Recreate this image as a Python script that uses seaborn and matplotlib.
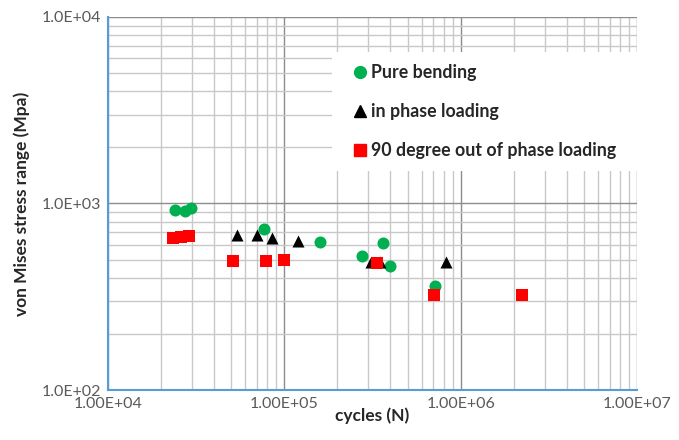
import numpy as np
import pandas as pd
import matplotlib
matplotlib.use("Agg")
import matplotlib.pyplot as plt
from matplotlib.ticker import FixedLocator, FuncFormatter, NullFormatter
from matplotlib.lines import Line2D
import seaborn as sns

# Fatigue test results: cycles to failure vs von Mises stress range
bending_cycles = [24.0e3, 27.4e3, 29.6e3, 76.7e3, 159e3, 276e3, 363e3, 398e3, 716e3]
bending_stress = [922, 912, 946, 730, 622, 523, 614, 462, 361]

inphase_cycles = [53.9e3, 70.0e3, 85.1e3, 120e3, 310e3, 349e3, 826e3]
inphase_stress = [678, 678, 653, 630, 485, 485, 485]

outphase_cycles = [23.4e3, 25.9e3, 28.8e3, 51.2e3, 78.7e3, 99.5e3, 336e3, 706e3, 2.23e6]
outphase_stress = [653, 661, 670, 492, 492, 498, 480, 323, 323]

series_names = ["Pure bending", "in phase loading", "90 degree out of phase loading"]

df = pd.concat([
    pd.DataFrame({"cycles": bending_cycles, "stress": bending_stress, "series": series_names[0]}),
    pd.DataFrame({"cycles": inphase_cycles, "stress": inphase_stress, "series": series_names[1]}),
    pd.DataFrame({"cycles": outphase_cycles, "stress": outphase_stress, "series": series_names[2]}),
], ignore_index=True)

sns.set_style("white")
plt.rcParams["font.family"] = ["Lato", "DejaVu Sans"]

colors = {series_names[0]: "#00B050", series_names[1]: "#000000", series_names[2]: "#FF0000"}
markers = {series_names[0]: "o", series_names[1]: "^", series_names[2]: "s"}
sizes = {series_names[0]: 75, series_names[1]: 75, series_names[2]: 85}

fig = plt.figure(figsize=(6.79, 4.40), dpi=100)
ax = fig.add_axes([108 / 679, 1 - 390 / 440, (637 - 108) / 679, (390 - 17) / 440])

for name in series_names:
    sns.scatterplot(data=df[df["series"] == name], x="cycles", y="stress",
                    color=colors[name], marker=markers[name], s=sizes[name],
                    linewidth=0, ax=ax, zorder=3, legend=False)

ax.set_xscale("log")
ax.set_yscale("log")
ax.set_xlim(1e4, 1e7)
ax.set_ylim(1e2, 1e4)

# major/minor grid
ax.grid(True, which="major", color="#8c8c8c", linewidth=1.0, zorder=0)
ax.grid(True, which="minor", color="#c8c8c8", linewidth=1.0, zorder=0)
ax.set_axisbelow(True)

xmajor = [1e4, 1e5, 1e6, 1e7]
ymajor = [1e2, 1e3, 1e4]
ax.xaxis.set_major_locator(FixedLocator(xmajor))
ax.yaxis.set_major_locator(FixedLocator(ymajor))
ax.xaxis.set_minor_locator(FixedLocator([m * 10 ** e for e in range(4, 7) for m in range(2, 10)]))
ax.yaxis.set_minor_locator(FixedLocator([m * 10 ** e for e in range(2, 4) for m in range(2, 10)]))
ax.xaxis.set_major_formatter(FuncFormatter(lambda v, p: "%.2E" % v))
ax.yaxis.set_major_formatter(FuncFormatter(lambda v, p: "%.1E" % v))
ax.xaxis.set_minor_formatter(NullFormatter())
ax.yaxis.set_minor_formatter(NullFormatter())

axis_blue = "#5B9BD5"
for side in ["top", "right"]:
    ax.spines[side].set_visible(False)
for side in ["left", "bottom"]:
    ax.spines[side].set_color(axis_blue)
    ax.spines[side].set_linewidth(1.5)
ax.tick_params(which="both", direction="in", length=4, color=axis_blue, width=1,
               labelsize=11.5, labelcolor="#595959", pad=5)

ax.set_xlabel("cycles (N)", fontsize=12.5, fontweight="bold")
ax.set_ylabel("von Mises stress range (Mpa)", fontsize=12.5, fontweight="bold")
ax.xaxis.set_label_coords(0.5, -0.046)
ax.yaxis.set_label_coords(-0.148, 0.5)

handles = [Line2D([], [], linestyle="none", marker=markers[n], color=colors[n],
                  markersize=8.5 if n != series_names[2] else 9) for n in series_names]
leg = ax.legend(handles, series_names, loc="upper left",
                bbox_to_anchor=(0.4234, 0.59, 0.582, 0.3162), mode="expand",
                frameon=True, facecolor="white", edgecolor="none", framealpha=1,
                fancybox=False, prop={"size": 12.8, "weight": "bold"},
                labelspacing=1.22, handlelength=1.8, handletextpad=-0.28,
                borderpad=0.7, borderaxespad=0)
leg.set_zorder(5)

fig.savefig("out.png", dpi=100, facecolor="white")
